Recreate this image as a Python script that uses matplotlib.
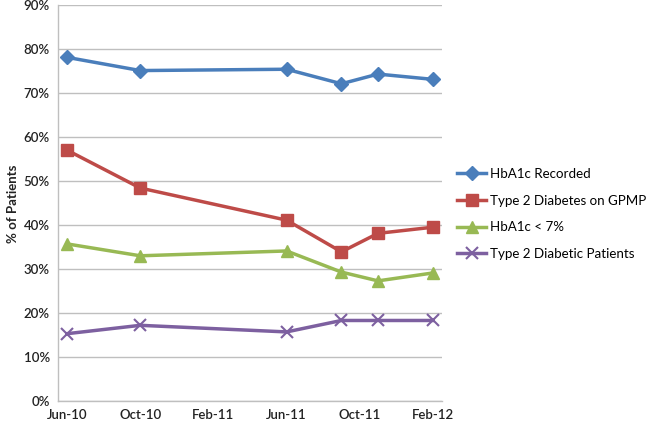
import matplotlib
matplotlib.use("Agg")
import matplotlib.pyplot as plt

# Month index: 0 = Jun-10
months = [0, 4, 12, 15, 17, 20]
tick_pos = [0, 4, 8, 12, 16, 20]
tick_labels = ["Jun-10", "Oct-10", "Feb-11", "Jun-11", "Oct-11", "Feb-12"]

hba1c_recorded = [78.1, 75.1, 75.4, 72.1, 74.3, 73.1]
gpmp = [57.0, 48.4, 41.1, 33.9, 38.1, 39.5]
hba1c_lt7 = [35.7, 33.0, 34.1, 29.3, 27.3, 29.1]
t2_patients = [15.3, 17.2, 15.7, 18.3, 18.3, 18.3]

series = [
    ("HbA1c Recorded", hba1c_recorded, "#4A7EBB", "D", 7),
    ("Type 2 Diabetes on GPMP", gpmp, "#BE4B48", "s", 8),
    ("HbA1c < 7%", hba1c_lt7, "#98B954", "^", 8.5),
    ("Type 2 Diabetic Patients", t2_patients, "#7D60A0", "x", 8),
]

plt.rcParams['font.family'] = ['Lato', 'DejaVu Sans']

fig = plt.figure(figsize=(6.5, 4.25), dpi=100)
ax = fig.add_axes([58/650, 24/425, 384/650, 396/425])

for name, vals, col, mk, ms in series:
    kw = dict(markeredgewidth=1.5) if mk == "x" else dict(markeredgecolor=col)
    ax.plot(months, vals, color=col, lw=2.5, marker=mk, markersize=ms,
            markerfacecolor=col, label=name, **kw)

ax.set_xlim(-0.5, 20.5)
ax.set_ylim(0, 90)
ax.set_yticks(range(0, 91, 10))
ax.set_yticklabels([f"{v}%" for v in range(0, 91, 10)])
ax.set_xticks(tick_pos)
ax.set_xticklabels(tick_labels)
ax.tick_params(length=0, labelsize=9.5, pad=6, colors="#222222")
for lab in ax.get_xticklabels() + ax.get_yticklabels():
    lab.set_fontweight("semibold")
ax.yaxis.grid(True, color="#BFBFBF", lw=1)
ax.set_axisbelow(True)
for s in ["top", "right"]:
    ax.spines[s].set_visible(False)
for s in ["left", "bottom"]:
    ax.spines[s].set_color("#BFBFBF")
    ax.spines[s].set_linewidth(1)

fig.text(13/650, 0.52, "% of Patients", rotation=90, va="center", ha="center",
         fontsize=9.5, fontweight="bold", color="#222222")

ax.legend(loc="upper left", bbox_to_anchor=(457/650, 257/425),
          bbox_transform=fig.transFigure, frameon=False, fontsize=9.6,
          handlelength=2.2, handletextpad=0.3, labelspacing=1.1,
          borderaxespad=0, borderpad=0)

fig.savefig("out.png", dpi=100)
